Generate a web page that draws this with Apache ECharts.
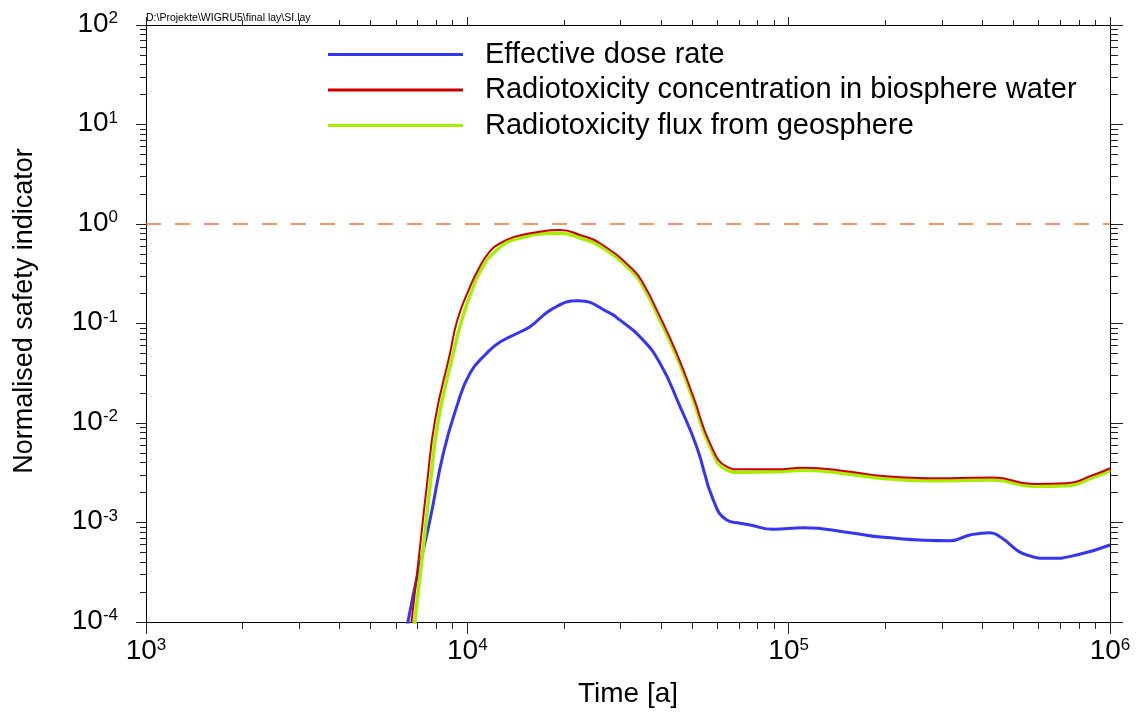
<!DOCTYPE html>
<html>
<head>
<meta charset="utf-8">
<title>Normalised safety indicator</title>
<script src="https://cdn.jsdelivr.net/npm/echarts@6/dist/echarts.min.js"></script>
<style>
  html, body { margin: 0; padding: 0; background: #fff; }
  #si-chart { width: 1137px; height: 712px; }
</style>
</head>
<body>
<div id="si-chart"></div>
<script>
// values (time in years)
let timeDose = [6347, 6551, 6871, 7652, 8418, 9267, 10193, 11490, 12640, 14590, 15670, 18510, 22150, 27800,
  29870, 34460, 39780, 45920, 51730, 58290, 64150, 70590, 75800, 89600, 111100, 155200, 197000, 317800, 366800,
  423300, 454700, 550700, 650700, 787700, 1000000];
let doseRate = [6.3e-5, 1.05e-4, 2.26e-4, 1.06e-3, 4.96e-3, 0.0146, 0.0316, 0.0502, 0.0652, 0.0821, 0.0929, 0.142,
  0.169, 0.127, 0.108, 0.0737, 0.0398, 0.0146, 0.00578, 0.00168, 0.00106, 0.000982, 0.000944, 0.000855, 0.000887,
  0.00079, 0.00071, 0.000656, 0.000749, 0.00079, 0.00072, 0.000471, 0.000436, 0.000471, 0.000594];

let timeConc = [6601, 6713, 7088, 7474, 7933, 8834, 9307, 10193, 10795, 11622, 12640, 14076, 16044, 19427, 22420,
  25880, 32860, 35730, 38850, 44830, 50490, 56910, 64150, 70590, 91800, 111100, 155200, 197000, 317800, 433500,
  577300, 733500, 887600, 1000000];
let concBiosphere = [6.3e-5, 1.05e-4, 4.9e-4, 2.29e-3, 0.0107, 0.0502, 0.108, 0.234, 0.345, 0.508, 0.64, 0.746,
  0.818, 0.87, 0.775, 0.64, 0.345, 0.234, 0.137, 0.0502, 0.0184, 0.00625, 0.00364, 0.00342, 0.00342, 0.00356,
  0.00324, 0.00293, 0.00278, 0.00284, 0.00244, 0.00248, 0.003, 0.00351];

let timeFlux = [6773, 6871, 7262, 7652, 8123, 9042, 9605, 10438, 11027, 12040, 14410, 19427, 22420, 25880, 32860,
  35730, 38850, 44830, 50490, 56910, 64150, 70590, 91800, 111100, 155200, 197000, 317800, 433500, 577300,
  733500, 887600, 1000000];
let fluxGeosphere = [6.3e-5, 1.05e-4, 4.9e-4, 2.29e-3, 0.0107, 0.0502, 0.108, 0.234, 0.345, 0.508, 0.718, 0.806,
  0.723, 0.601, 0.324, 0.217, 0.127, 0.0464, 0.017, 0.00578, 0.00337, 0.0032, 0.00323, 0.00336, 0.00306,
  0.00277, 0.00263, 0.00268, 0.00231, 0.00234, 0.00284, 0.00332];

let seriesNames = ['Effective dose rate', 'Radiotoxicity concentration in biosphere water',
  'Radiotoxicity flux from geosphere'];

// axis decades (exponents of 10) and minor tick multipliers
let xDecades = [3, 4, 5, 6];
let yDecades = [-4, -3, -2, -1, 0, 1, 2];
let minorMultipliers = [2, 3, 4, 5, 6, 7, 8, 9];
let threshold = 1;

const FONT = "'Liberation Sans', Arial, sans-serif";
const BLUE = '#3535f2';
const RED = '#cc0000';
const GREEN = '#a4f000';

let pairs = (xs, ys) => xs.map((x, i) => [x, ys[i]]);

let minorTicks = decades => {
  let ticks = [];
  for (let i = 0; i < decades.length - 1; i++) {
    minorMultipliers.forEach(m => ticks.push(decades[i] + Math.log10(m)));
  }
  return ticks;
};

let powerLabel = value => '{b|10}{s|' + Math.round(Math.log10(value)) + '}';
let powerRich = {
  b: { fontSize: 28, fontFamily: FONT, color: '#000', verticalAlign: 'top', lineHeight: 30 },
  s: { fontSize: 17, fontFamily: FONT, color: '#000', verticalAlign: 'top', lineHeight: 30, padding: [0, 0, 2, 0] }
};

// main log axis (with or without labels)
let logAxis = (position, lo, hi, tickLen, withLabels, margin) => ({
  type: 'log',
  logBase: 10,
  position: position,
  min: Math.pow(10, lo),
  max: Math.pow(10, hi),
  axisLine: { show: true, onZero: false, lineStyle: { color: '#000', width: 1 } },
  axisTick: { show: true, inside: false, length: tickLen, lineStyle: { color: '#222', width: 1 } },
  minorTick: { show: false },
  splitLine: { show: false },
  axisLabel: {
    show: withLabels,
    margin: margin,
    formatter: powerLabel,
    rich: powerRich
  }
});

// helper axis in log10 space, only draws the 2..9 minor ticks
let minorAxis = (position, decades, tickLen) => ({
  type: 'value',
  position: position,
  min: decades[0],
  max: decades[decades.length - 1],
  axisLine: { show: false, onZero: false },
  axisTick: { show: true, inside: false, length: tickLen, customValues: minorTicks(decades),
    lineStyle: { color: '#222', width: 1 } },
  axisLabel: { show: false },
  splitLine: { show: false }
});

let xMain = logAxis('bottom', xDecades[0], xDecades[xDecades.length - 1], 12, true, 15);
xMain.name = 'Time [a]';
xMain.nameLocation = 'middle';
xMain.nameGap = 58;
xMain.nameTextStyle = { fontSize: 28, fontFamily: FONT, color: '#000' };

let yMain = logAxis('left', yDecades[0], yDecades[yDecades.length - 1], 10, true, 28);
yMain.name = 'Normalised safety indicator';
yMain.nameLocation = 'middle';
yMain.nameGap = 108;
yMain.nameTextStyle = { fontSize: 27, fontFamily: FONT, color: '#000', padding: [0, 0, 0, 25] };

let chart = echarts.init(document.getElementById('si-chart'));
chart.setOption({
  animation: false,
  backgroundColor: '#fff',
  grid: { left: 146, right: 27, top: 25, bottom: 90, containLabel: false, outerBoundsMode: 'none' },
  xAxis: [
    xMain,
    logAxis('top', xDecades[0], xDecades[xDecades.length - 1], 8, false, 8),
    minorAxis('bottom', xDecades, 7),
    minorAxis('top', xDecades, 5)
  ],
  yAxis: [
    yMain,
    logAxis('right', yDecades[0], yDecades[yDecades.length - 1], 13, false, 8),
    minorAxis('left', yDecades, 6),
    minorAxis('right', yDecades, 8)
  ],
  legend: {
    orient: 'vertical',
    left: 328,
    top: 40,
    padding: 0,
    itemWidth: 135,
    itemHeight: 3,
    itemGap: 6.5,
    icon: 'rect',
    textStyle: { fontSize: 29, fontFamily: FONT, color: '#000', padding: [0, 0, 0, 17] },
    data: seriesNames
  },
  graphic: [{
    type: 'text',
    left: 146,
    top: 13,
    style: { text: 'D:\\Projekte\\WIGRU5\\final lay\\SI.lay', fontSize: 10.5, fontFamily: FONT, fill: '#000' }
  }],
  series: [
    {
      name: seriesNames[0],
      type: 'line',
      data: pairs(timeDose, doseRate),
      showSymbol: false,
      smooth: 0.5,
      z: 3,
      lineStyle: { color: BLUE, width: 3 },
      itemStyle: { color: BLUE },
      markLine: {
        silent: true,
        symbol: 'none',
        label: { show: false },
        lineStyle: { color: '#ff6e2e', type: [15, 14], width: 1.5 },
        data: [{ yAxis: threshold }]
      }
    },
    {
      name: seriesNames[1],
      type: 'line',
      data: pairs(timeConc, concBiosphere),
      showSymbol: false,
      smooth: 0.5,
      z: 5,
      lineStyle: { color: RED, width: 2 },
      itemStyle: { color: RED }
    },
    {
      name: seriesNames[2],
      type: 'line',
      data: pairs(timeFlux, fluxGeosphere),
      showSymbol: false,
      smooth: 0.5,
      z: 4,
      lineStyle: { color: GREEN, width: 3.5 },
      itemStyle: { color: GREEN }
    }
  ]
});
</script>
</body>
</html>
